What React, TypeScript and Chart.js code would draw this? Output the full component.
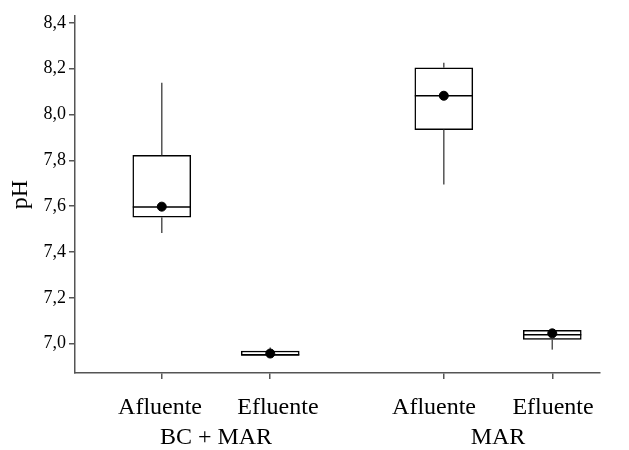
import React, { useEffect, useRef } from "react";
import { Chart, registerables } from "chart.js";

Chart.register(...registerables);

const categories = ["Afluente", "Efluente", "Afluente", "Efluente"];
const groups = ["BC + MAR", "MAR"];
const xPositions = [1, 2, 3.6, 4.6];
const labelPositions = [0.984, 2.071, 3.51, 4.607];
const groupPositions = [1.5, 4.1];
const whiskerLow = [7.483, 6.945, 7.695, 6.974];
const q1 = [7.552, 6.949, 7.934, 7.019];
const median = [7.596, 6.952, 8.082, 7.039];
const q3 = [7.822, 6.968, 8.204, 7.058];
const whiskerHigh = [8.139, 6.983, 8.226, 7.058];
const means = [7.598, 6.957, 8.082, 7.045];
const yTicks = [7.0, 7.2, 7.4, 7.6, 7.8, 8.0, 8.2, 8.4];

const FONT = "'Liberation Serif', 'Times New Roman', serif";
const AXIS_COLOR = "#555555";

const boxPlugin = {
  id: "boxParts",
  afterDatasetDraw(chart: any, args: any) {
    if (args.index !== 0) return;
    const ctx = chart.ctx;
    const xs = chart.scales.x;
    const ys = chart.scales.y;
    const meta = chart.getDatasetMeta(0);
    ctx.save();
    xPositions.forEach((xv, i) => {
      const cx = xs.getPixelForValue(xv);
      const el = meta.data[i];
      const half = el ? el.width / 2 : 29;
      ctx.strokeStyle = AXIS_COLOR;
      ctx.lineWidth = 1.5;
      ctx.beginPath();
      ctx.moveTo(cx, ys.getPixelForValue(q3[i]));
      ctx.lineTo(cx, ys.getPixelForValue(whiskerHigh[i]));
      ctx.moveTo(cx, ys.getPixelForValue(q1[i]));
      ctx.lineTo(cx, ys.getPixelForValue(whiskerLow[i]));
      ctx.stroke();
      ctx.strokeStyle = "#000000";
      ctx.lineWidth = 1.5;
      const my = ys.getPixelForValue(median[i]);
      ctx.beginPath();
      ctx.moveTo(cx - half, my);
      ctx.lineTo(cx + half, my);
      ctx.stroke();
    });
    ctx.restore();
  },
};

export default function App() {
  const ref = useRef<HTMLCanvasElement>(null);
  useEffect(() => {
    document.body.style.margin = "0";
    const canvas = ref.current;
    if (!canvas) return;
    const xMin = 0.2;
    const xMax = 5.04;
    const labelAxis = (positions: number[], texts: string[], h: number, pad: number, weight: number) => ({
      type: "linear",
      position: "bottom",
      offset: false,
      weight,
      min: xMin,
      max: xMax,
      afterBuildTicks: (s: any) => {
        s.ticks = positions.map((v) => ({ value: v }));
      },
      afterFit: (s: any) => {
        s.height = h;
      },
      ticks: {
        callback: (_v: any, i: number) => texts[i],
        autoSkip: false,
        maxRotation: 0,
        padding: pad,
        color: "#000000",
        font: { family: FONT, size: 24 },
      },
      grid: { display: false, offset: false, drawTicks: false, tickLength: 0 },
      border: { display: false },
    });
    const chart = new Chart(canvas, {
      type: "bar",
      data: {
        datasets: [
          {
            type: "bar",
            data: xPositions.map((x, i) => ({ x, y: [q1[i], q3[i]] })) as any,
            backgroundColor: "#ffffff",
            borderColor: "#000000",
            borderWidth: 1.5,
            borderSkipped: false,
            barThickness: 58,
            order: 2,
          } as any,
          {
            type: "scatter",
            data: xPositions.map((x, i) => ({ x, y: means[i] })),
            backgroundColor: "#000000",
            borderColor: "#000000",
            pointRadius: 4.5,
            order: 1,
          } as any,
        ],
      },
      options: {
        responsive: false,
        animation: false,
        events: [],
        layout: { padding: { top: 16, right: 29, left: 0, bottom: 0 } },
        plugins: { legend: { display: false }, tooltip: { enabled: false } },
        scales: {
          x: {
            type: "linear",
            position: "bottom",
            offset: false,
            weight: 0,
            min: xMin,
            max: xMax,
            afterBuildTicks: (s: any) => {
              s.ticks = xPositions.map((v) => ({ value: v }));
            },
            afterFit: (s: any) => {
              s.height = 6;
            },
            ticks: {
              callback: () => "",
              autoSkip: false,
              maxRotation: 0,
              padding: 0,
              font: { family: FONT, size: 10 },
            },
            grid: {
              display: true,
              offset: false,
              drawOnChartArea: false,
              drawTicks: true,
              tickLength: 6,
              color: AXIS_COLOR,
              lineWidth: 1.5,
            },
            border: { display: true, color: AXIS_COLOR, width: 1.5 },
          },
          xl: labelAxis(labelPositions, categories, 44, 14, 1),
          x2: labelAxis(groupPositions, groups, 27, 0, 2),
          y: {
            type: "linear",
            min: 6.872,
            max: 8.43,
            afterBuildTicks: (s: any) => {
              s.ticks = yTicks.map((v) => ({ value: v }));
            },
            afterFit: (s: any) => {
              s.width = 75;
            },
            ticks: {
              callback: (v: any) => Number(v).toFixed(1).replace(".", ","),
              padding: 3,
              color: "#000000",
              font: { family: FONT, size: 18 },
            },
            grid: {
              display: true,
              drawOnChartArea: false,
              drawTicks: true,
              tickLength: 6,
              color: AXIS_COLOR,
              lineWidth: 1.5,
            },
            border: { display: true, color: AXIS_COLOR, width: 1.5 },
            title: {
              display: true,
              text: "pH",
              color: "#000000",
              font: { family: FONT, size: 24 },
              padding: { top: 6, bottom: 0 },
            },
          },
        },
      } as any,
      plugins: [boxPlugin],
    });
    return () => chart.destroy();
  }, []);
  return (
    <div style={{ width: 629, height: 450 }}>
      <canvas ref={ref} width={629} height={450} />
    </div>
  );
}
